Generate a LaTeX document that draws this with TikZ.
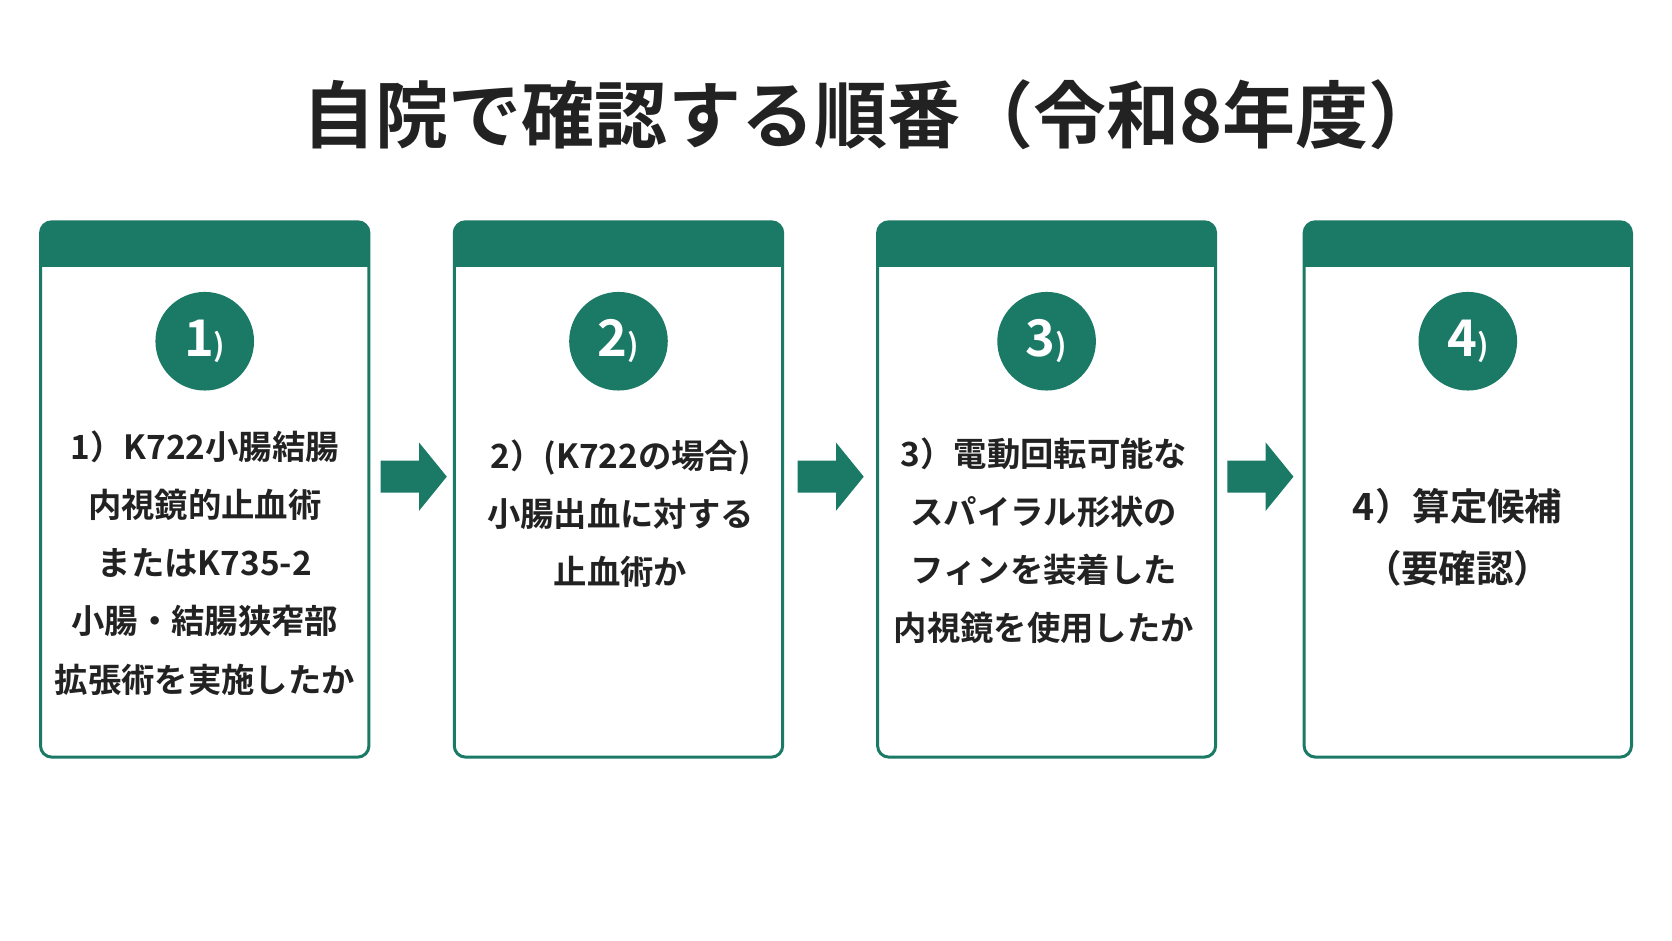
\documentclass[tikz,border=0pt]{standalone}
\usepackage{fontspec}
\setmainfont{Noto Sans CJK JP}[BoldFont={* Bold}]
\usetikzlibrary{positioning}
\definecolor{teal}{HTML}{1B7A66}
\definecolor{ink}{HTML}{222222}
\begin{document}
\begin{tikzpicture}[x=0.02cm, y=-0.02cm, every node/.style={text=ink, font=\bfseries},
    stepbox/.style={draw=teal, line width=1.6pt, rounded corners=6pt},
    numdot/.style={circle, fill=teal, minimum size=1.85cm, inner sep=0pt, text=white, font=\bfseries\fontsize{27}{30}\selectfont},
    steptext/.style={align=center, font=\bfseries\fontsize{17.8}{31}\selectfont}]
    \useasboundingbox (0,0) rectangle (1568,882);

    % Title
    \node[font=\bfseries\fontsize{39}{44}\selectfont] (title) at (818,108) {自院で確認する順番（令和8年度）};

    % Step boxes with header band and number
    \foreach \n/\xa/\xb in {1/38/346, 2/426/734, 3/823/1140, 4/1223/1530} {
        \fill[teal, rounded corners=6pt] (\xa,208) rectangle (\xb,250);
        \fill[teal] (\xa,230) rectangle (\xb,250);
        \draw[stepbox] (\xa,208) rectangle (\xb,710);
        \node[numdot] (num\n) at ({(\xa+\xb)/2},320) {\n\scalebox{0.6}{)}};
    }

    % Step texts
    \node[steptext, anchor=north] (text1) at (192,398) {1）K722小腸結腸\\内視鏡的止血術\\またはK735-2\\小腸・結腸狭窄部\\拡張術を実施したか};
    \node[steptext, anchor=north] (text2) at (582,406) {2）(K722の場合)\\小腸出血に対する\\止血術か};
    \node[steptext, anchor=north] (text3) at (979,404) {3）電動回転可能な\\スパイラル形状の\\フィンを装着した\\内視鏡を使用したか};
    \node[steptext, anchor=north, font=\bfseries\fontsize{20}{33}\selectfont] (text4) at (1367,452) {4）算定候補\\（要確認）};

    % Arrows
    \foreach \n/\xs in {1/357, 2/748, 3/1151} {
        \coordinate (arr\n) at (\xs,447);
        \fill[teal] (arr\n) ++(0,-15) -- ++(36,0) -- ++(0,-17) -- ++(26,32)
            -- ++(-26,32) -- ++(0,-17) -- ++(-36,0) -- cycle;
    }
\end{tikzpicture}
\end{document}
